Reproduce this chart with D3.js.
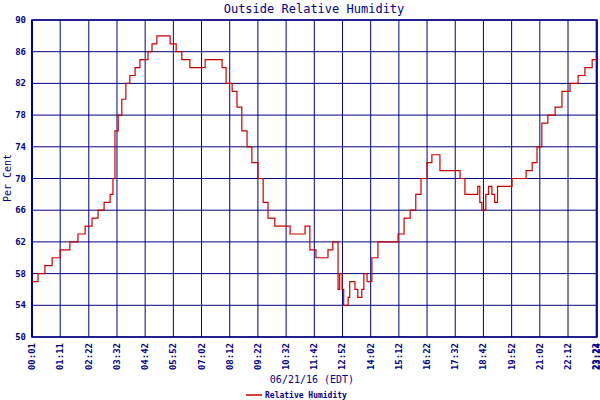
<!DOCTYPE html>
<html><head><meta charset="utf-8">
<script src="https://cdn.jsdelivr.net/npm/d3@7"></script>
<style>body{margin:0;background:#fff}text{font-family:"DejaVu Sans Mono",monospace;fill:#000080}</style>
</head><body><svg id="chart" width="600" height="400"></svg>
<script>
// minutes since midnight, percent humidity
const times = [1,16,33,51,71,95,115,133,150,165,180,195,202,207,215,224,234,244,257,269,289,299,311,339,344,359,373,393,406,431,455,473,483,498,510,522,535,547,562,575,587,604,622,642,666,679,691,706,721,736,748,761,765,771,775,786,790,803,810,820,825,833,845,860,878,895,910,925,940,954,967,982,994,1004,1014,1031,1051,1064,1076,1088,1103,1108,1113,1118,1128,1135,1143,1150,1157,1175,1193,1213,1228,1243,1255,1267,1282,1300,1317,1337,1357,1374,1392,1404];
const humidity = [57,58,59,60,61,62,63,64,65,66,67,68,70,76,78,80,82,83,84,85,86,87,88,88,87,86,85,84,84,85,85,84,82,81,79,76,74,72,70,67,65,64,64,63,63,64,61,60,60,61,62,56,58,56,54,55,57,56,55,56,58,57,60,62,62,62,63,65,66,68,70,72,73,73,71,71,71,70,68,68,68,69,67,66,68,69,68,67,69,69,70,70,71,72,74,77,78,79,81,82,83,84,85,85];
const tickLabels = ["00:01","01:11","02:22","03:32","04:42","05:52","07:02","08:12","09:22","10:32","11:42","12:52","14:02","15:12","16:22","17:32","18:42","19:52","21:02","22:12","23:22","23:24"];
const yTicks = [50,54,58,62,66,70,74,78,82,86,90];
const toMin = s => +s.slice(0,2)*60 + +s.slice(3);

const svg = d3.select("#chart");
const pLeft = 32, pRight = 597, pTop = 20, pBottom = 337;
const x = d3.scaleLinear().domain([1,1404]).range([pLeft,pRight]);
const y = d3.scaleLinear().domain([50,90]).range([pBottom,pTop]);
const navy = "#000080";

// grid
svg.append("g").selectAll("line").data(yTicks).join("line")
  .attr("x1",pLeft).attr("x2",pRight).attr("y1",d=>y(d)).attr("y2",d=>y(d))
  .attr("stroke",navy).attr("stroke-width",1);
svg.append("g").selectAll("line").data(tickLabels).join("line")
  .attr("x1",d=>x(toMin(d))).attr("x2",d=>x(toMin(d))).attr("y1",pTop).attr("y2",pBottom)
  .attr("stroke",navy).attr("stroke-width",1);
svg.append("rect").attr("x",pLeft).attr("y",pTop).attr("width",pRight-pLeft).attr("height",pBottom-pTop)
  .attr("fill","none").attr("stroke",navy).attr("stroke-width",1.5);
svg.append("line").attr("x1",pLeft).attr("x2",pLeft).attr("y1",pTop).attr("y2",pBottom).attr("stroke",navy).attr("stroke-width",2);

// y labels
svg.append("g").selectAll("text").data(yTicks).join("text")
  .attr("x",pLeft-6).attr("y",d=>y(d)+3).attr("text-anchor","end")
  .style("font-size","9px").style("font-weight","bold").text(d=>d);
// x labels
svg.append("g").selectAll("text").data(tickLabels).join("text")
  .attr("transform",d=>`translate(${x(toMin(d))+3},${pBottom+6}) rotate(-90)`)
  .attr("text-anchor","end").style("font-size","9px").style("font-weight","bold").text(d=>d);

// line
const pts = times.map((t,i)=>[t,humidity[i]]);
svg.append("path").datum(pts)
  .attr("d",d3.line().x(d=>x(d[0])).y(d=>y(d[1])).curve(d3.curveStepAfter))
  .attr("fill","none").attr("stroke","#cc0000").attr("stroke-width",1.2);

svg.append("text").attr("x",314).attr("y",13).attr("text-anchor","middle")
  .style("font-size","12px").text("Outside Relative Humidity");
svg.append("text").attr("transform","translate(11,178) rotate(-90)").attr("text-anchor","middle")
  .style("font-size","10px").text("Per Cent");
svg.append("text").attr("x",312).attr("y",383).attr("text-anchor","middle")
  .style("font-size","10px").text("06/21/16 (EDT)");
svg.append("line").attr("x1",246).attr("x2",262).attr("y1",395).attr("y2",395).attr("stroke","#cc0000").attr("stroke-width",1.5);
svg.append("text").attr("x",265).attr("y",398).style("font-size","8px").style("font-weight","bold").text("Relative Humidity");
</script></body></html>
